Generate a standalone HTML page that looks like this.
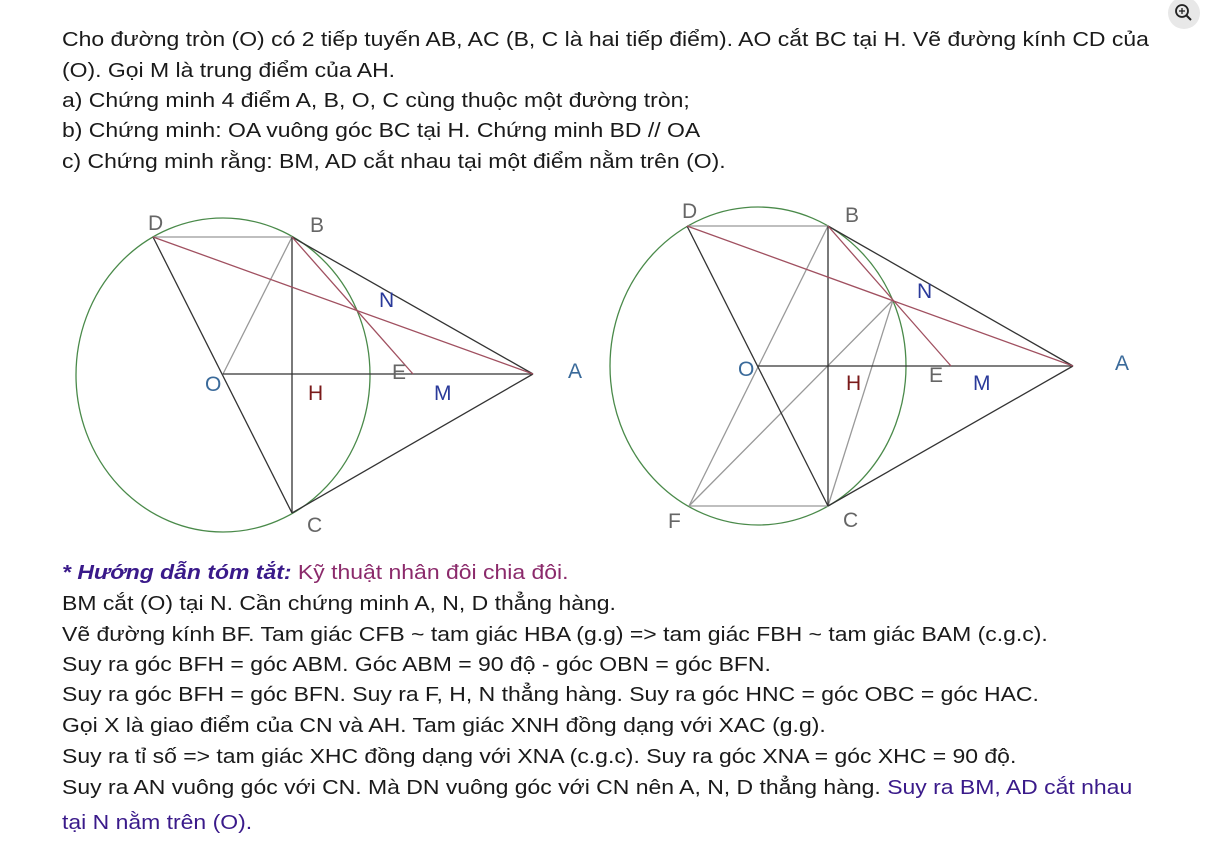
<!DOCTYPE html>
<html><head><meta charset="utf-8"><style>
body{margin:0;width:1220px;height:841px;background:#fff;overflow:hidden;position:relative;font-family:"Liberation Sans","DejaVu Sans",sans-serif;}
.t{position:absolute;left:62px;font-size:20.5px;color:#1a1a1a;white-space:nowrap;line-height:24px;transform:scaleX(1.12);transform-origin:0 0;}
.p{color:#8b2a6b}
.b{color:#3a1a8a;font-weight:bold;font-style:italic}
.v{color:#3a1a8a}
svg{position:absolute;left:0;top:0}
</style></head><body>
<div class="t" style="top:28px">Cho đường tròn (O) có 2 tiếp tuyến AB, AC (B, C là hai tiếp điểm). AO cắt BC tại H. Vẽ đường kính CD của</div>
<div class="t" style="top:59px">(O). Gọi M là trung điểm của AH.</div>
<div class="t" style="top:89px">a) Chứng minh 4 điểm A, B, O, C cùng thuộc một đường tròn;</div>
<div class="t" style="top:119px">b) Chứng minh: OA vuông góc BC tại H. Chứng minh BD // OA</div>
<div class="t" style="top:150px">c) Chứng minh rằng: BM, AD cắt nhau tại một điểm nằm trên (O).</div>
<div class="t" style="top:561px"><span class="b">* Hướng dẫn tóm tắt:</span> <span class="p">Kỹ thuật nhân đôi chia đôi.</span></div>
<div class="t" style="top:592px">BM cắt (O) tại N. Cần chứng minh A, N, D thẳng hàng.</div>
<div class="t" style="top:623px">Vẽ đường kính BF. Tam giác CFB ~ tam giác HBA (g.g) =&gt; tam giác FBH ~ tam giác BAM (c.g.c).</div>
<div class="t" style="top:653px">Suy ra góc BFH = góc ABM. Góc ABM = 90 độ - góc OBN = góc BFN.</div>
<div class="t" style="top:683px">Suy ra góc BFH = góc BFN. Suy ra F, H, N thẳng hàng. Suy ra góc HNC = góc OBC = góc HAC.</div>
<div class="t" style="top:714px">Gọi X là giao điểm của CN và AH. Tam giác XNH đồng dạng với XAC (g.g).</div>
<div class="t" style="top:745px">Suy ra tỉ số =&gt; tam giác XHC đồng dạng với XNA (c.g.c). Suy ra góc XNA = góc XHC = 90 độ.</div>
<div class="t" style="top:776px">Suy ra AN vuông góc với CN. Mà DN vuông góc với CN nên A, N, D thẳng hàng. <span class="v">Suy ra BM, AD cắt nhau</span></div>
<div class="t v" style="top:811px">tại N nằm trên (O).</div>

<svg width="1220" height="841" font-family="Liberation Sans, sans-serif" font-size="21">
<circle cx="1184" cy="13" r="16" fill="#e8e8e8"/>
<circle cx="1182" cy="11" r="6" fill="none" stroke="#222" stroke-width="1.8"/>
<line x1="1186" y1="15" x2="1191" y2="20" stroke="#222" stroke-width="2"/>
<line x1="1179" y1="11" x2="1185" y2="11" stroke="#222" stroke-width="1.3"/>
<line x1="1182" y1="8" x2="1182" y2="14" stroke="#222" stroke-width="1.3"/>

<g fill="none" stroke-width="1.3">
<ellipse cx="223" cy="375" rx="147" ry="157" stroke="#4a8a4a"/>
<line x1="153" y1="237" x2="292" y2="237" stroke="#999"/>
<line x1="223" y1="374" x2="292" y2="237" stroke="#999"/>
<line x1="153" y1="237" x2="292" y2="513" stroke="#333"/>
<line x1="292" y1="237" x2="292" y2="513" stroke="#333"/>
<line x1="223" y1="374" x2="533" y2="374" stroke="#333"/>
<line x1="292" y1="237" x2="533" y2="374" stroke="#333"/>
<line x1="292" y1="513" x2="533" y2="374" stroke="#333"/>
<line x1="153" y1="237" x2="533" y2="374" stroke="#a05060"/>
<line x1="292" y1="237" x2="413" y2="374" stroke="#a05060"/>
</g>
<g fill="#666">
<text x="148" y="230">D</text><text x="310" y="232">B</text><text x="307" y="532">C</text>
<text x="392" y="379">E</text><text x="568" y="378" fill="#3a6a9a">A</text>
<text x="205" y="391" fill="#3a6a9a">O</text><text x="308" y="400" fill="#7a1a1a">H</text>
<text x="434" y="400" fill="#2a3a9a">M</text><text x="379" y="307" fill="#2a3a9a">N</text>
</g>

<g fill="none" stroke-width="1.3">
<ellipse cx="758" cy="366" rx="148" ry="159" stroke="#4a8a4a"/>
<line x1="687" y1="226" x2="828" y2="226" stroke="#999"/>
<line x1="689" y1="506" x2="828" y2="506" stroke="#999"/>
<line x1="689" y1="506" x2="828" y2="226" stroke="#999"/>
<line x1="689" y1="506" x2="893" y2="300" stroke="#999"/>
<line x1="828" y1="506" x2="893" y2="300" stroke="#999"/>
<line x1="687" y1="226" x2="828" y2="506" stroke="#333"/>
<line x1="828" y1="226" x2="828" y2="506" stroke="#333"/>
<line x1="758" y1="366" x2="1073" y2="366" stroke="#333"/>
<line x1="828" y1="226" x2="1073" y2="366" stroke="#333"/>
<line x1="828" y1="506" x2="1073" y2="366" stroke="#333"/>
<line x1="687" y1="226" x2="1073" y2="366" stroke="#a05060"/>
<line x1="828" y1="226" x2="951" y2="366" stroke="#a05060"/>
</g>
<g fill="#666">
<text x="682" y="218">D</text><text x="845" y="222">B</text><text x="843" y="527">C</text>
<text x="668" y="528">F</text>
<text x="929" y="382">E</text><text x="1115" y="370" fill="#3a6a9a">A</text>
<text x="738" y="376" fill="#3a6a9a">O</text><text x="846" y="390" fill="#7a1a1a">H</text>
<text x="973" y="390" fill="#2a3a9a">M</text><text x="917" y="298" fill="#2a3a9a">N</text>
</g>
</svg>
</body></html>
